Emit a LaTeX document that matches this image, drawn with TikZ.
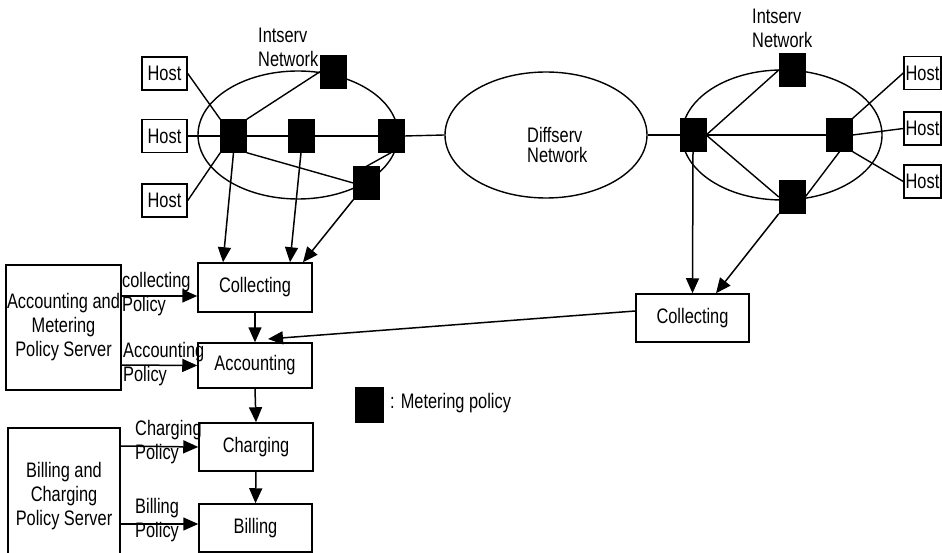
\documentclass[tikz,border=0pt]{standalone}
\usepackage{fontspec}
\setmainfont[FakeStretch=0.78]{Liberation Sans}
\usetikzlibrary{shapes.geometric,arrows.meta}
\begin{document}
\begin{tikzpicture}[x=1pt,y=-1pt,
  every node/.style={font=\fontsize{21}{24}\selectfont},
  thin line/.style={line width=1.4pt},
  box/.style={draw,line width=1.5pt,inner sep=1pt,align=center},
  host/.style={box,minimum width=45pt,minimum height=33pt},
  meter/.style={fill=black,draw=black,minimum width=26pt,minimum height=33pt,inner sep=0},
  net/.style={draw,ellipse,line width=1.4pt,inner sep=0},
  lbl/.style={inner sep=0,align=left},
  arr/.style={line width=1.5pt,-{Triangle[length=15pt,width=13pt]}}]
\useasboundingbox (0,0) rectangle (942,553);

% left intserv network
\node[net,minimum width=200pt,minimum height=128pt] (netL) at (298,135) {};
\node[lbl,anchor=west] (intL) at (258,47) {Intserv\\Network};
\node[host] (h1) at (164.5,73.5) {Host};
\node[host] (h2) at (164.5,136) {Host};
\node[host] (h3) at (164.5,200.5) {Host};
\node[meter] (s1) at (333.5,71.5) {};
\node[meter] (s2) at (233.5,136) {};
\node[meter] (s3) at (301,136) {};
\node[meter] (s4) at (391,136) {};
\node[meter] (s5) at (366.5,183) {};

% diffserv
\node[net,minimum width=202pt,minimum height=126pt] (diff) at (546,135) {};
\node[lbl,anchor=west] (difft) at (527,144.5) {Diffserv\\[-4pt]Network};

% right intserv network
\node[net,minimum width=200pt,minimum height=130pt] (netR) at (782,135) {};
\node[lbl,anchor=west] (intR) at (752,28.5) {Intserv\\Network};
\node[host,minimum width=37pt,inner sep=0pt] (g1) at (922.5,73) {Host};
\node[host,minimum width=37pt,inner sep=0pt] (g2) at (922.5,128.5) {Host};
\node[host,minimum width=37pt,inner sep=0pt] (g3) at (922.5,181.5) {Host};
\node[meter] (r1) at (693,135) {};
\node[meter] (r2) at (792,70) {};
\node[meter] (r3) at (839.5,135) {};
\node[meter] (r4) at (792,197) {};

% left network links
\draw[thin line] (h1.east) -- (s2.north west);
\draw[thin line] (h2.east) -- (s2.west);
\draw[thin line] (h3.east) -- (s2.south west);
\draw[thin line] (s2.north east) -- (s1.west);
\draw[thin line] (s2.center) -- (s3.center) -- (s4.center);
\draw[thin line] (s2.south east) -- (s5.west);
\draw[thin line] (s4.south) -- (s5.north);
\draw[thin line] (s4.east) -- (diff.west);
\draw[thin line] (diff.east) -- (r1.west);

% right network links
\draw[thin line] (r1.east) -- (r2.west);
\draw[thin line] (r1.center) -- (r3.center);
\draw[thin line] (r1.east) -- (r4.west);
\draw[thin line] (r3.south) -- (r4.east);
\draw[thin line] (r3.north east) -- (g1.west);
\draw[thin line] (r3.east) -- (g2.west);
\draw[thin line] (r3.south east) -- (g3.west);

% processing boxes
\node[box,minimum width=114pt,minimum height=49pt] (collL) at (255,287.5) {Collecting};
\node[box,minimum width=114pt,minimum height=45pt] (acc) at (255,365.5) {Accounting};
\node[box,minimum width=114pt,minimum height=48pt] (chg) at (256,447) {Charging};
\node[box,minimum width=113pt,minimum height=48pt] (bill) at (255.5,528) {Billing};
\node[box,minimum width=113pt,minimum height=48pt] (collR) at (692.5,318) {Collecting};
\node[box,minimum width=113pt,minimum height=125pt] (amps) at (63.5,327.5) {Accounting and\\Metering\\Policy Server};
\node[box,minimum width=112pt,minimum height=137pt] (bcps) at (64,496.5) {Billing and\\Charging\\Policy Server};

% arrows from networks to collecting
\draw[arr] (s2.south) -- ([xshift=-32pt]collL.north);
\draw[arr] (s3.south) -- ([xshift=35pt]collL.north);
\draw[arr] (s5.south west) -- ([xshift=48pt]collL.north);
\draw[arr] (r1.south) -- (collR.north);
\draw[arr] (r4.south west) -- ([xshift=23.5pt]collR.north);
\coordinate (acctip) at (268,339);
\draw[arr] ([yshift=7pt]collR.west) -- (acctip);

% chain
\draw[arr] (collL.south) -- (acc.north);
\draw[arr] (acc.south) -- (chg.north);
\draw[arr] (chg.south) -- (bill.north);

% policy arrows
\draw[arr] ([yshift=31.5pt]amps.east) -- ([yshift=-8.5pt]collL.west);
\draw[arr] ([yshift=-37.5pt]amps.east) -- (acc.west);
\draw[arr] ([yshift=50.5pt]bcps.east) -- (chg.west);
\draw[arr] ([yshift=-27.5pt]bcps.east) -- ([yshift=4pt]bill.west);
\node[lbl,anchor=west] (pl1) at (122,294.5) {collecting\\Policy};
\node[lbl,anchor=west] (pl2) at (123,364.5) {Accounting\\Policy};
\node[lbl,anchor=west] (pl3) at (135,442.5) {Charging\\Policy};
\node[lbl,anchor=west] (pl4) at (135,520.5) {Billing\\Policy};

% legend
\node[meter,minimum width=28pt,minimum height=35pt] (leg) at (369,404.5) {};
\node[lbl,anchor=west] (legt) at (390,403) {: Metering policy};
\end{tikzpicture}
\end{document}
